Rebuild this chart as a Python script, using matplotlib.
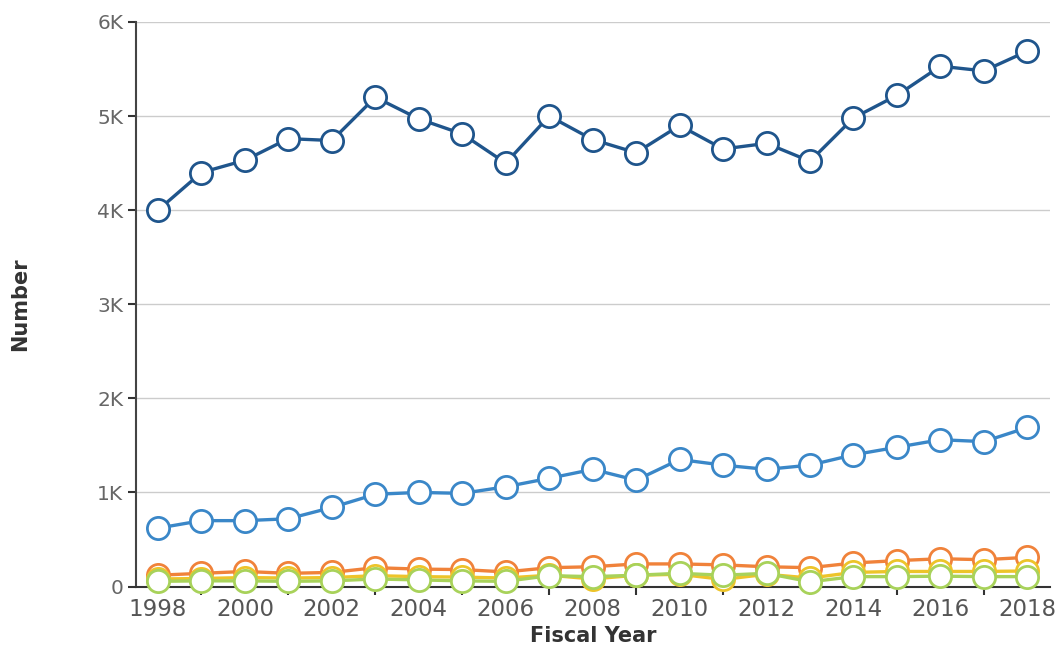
import matplotlib
matplotlib.use("Agg")
import matplotlib.pyplot as plt
import numpy as np

years = list(range(1998, 2019))

serie_a = [4000, 4400, 4530, 4760, 4740, 5200, 4970, 4810, 4500, 5000, 4750,
           4610, 4900, 4650, 4710, 4520, 4980, 5220, 5530, 5480, 5690]
serie_b = [620, 700, 700, 720, 840, 980, 1000, 990, 1060, 1150, 1245,
           1130, 1350, 1290, 1245, 1290, 1400, 1480, 1560, 1540, 1690]
serie_c = [120, 140, 160, 140, 150, 200, 185, 180, 155, 200, 210,
           240, 240, 230, 210, 200, 250, 275, 295, 285, 310]
serie_d = [80, 85, 95, 90, 95, 115, 105, 100, 90, 120, 80,
           120, 130, 75, 130, 90, 150, 160, 160, 160, 165]
serie_e = [55, 60, 60, 55, 60, 80, 70, 60, 55, 115, 105,
           120, 140, 120, 140, 50, 105, 105, 110, 105, 105]

yticks = [0, 1000, 2000, 3000, 4000, 5000, 6000]
ylabels = ["0", "1K", "2K", "3K", "4K", "5K", "6K"]

cores = ["#1f558c", "#3a87c8", "#f0823a", "#edc42a", "#a8d25a"]
series = [serie_a, serie_b, serie_c, serie_d, serie_e]

fig = plt.figure(figsize=(10.61, 6.54), dpi=100)
ax = fig.add_axes([0.128, 0.1032, 0.862, 0.8632])

for i in range(len(series)):
    ax.plot(years, series[i], color=cores[i], lw=2.4, marker="o",
            markersize=16, markerfacecolor="white", markeredgecolor=cores[i],
            markeredgewidth=2, clip_on=False, zorder=3 + i)

ax.set_xlim(1997.49, 2018.53)
ax.set_ylim(0, 6000)

ax.set_yticks(yticks)
ax.set_yticklabels(ylabels)
ax.grid(axis="y", color="#cccccc", lw=1)
ax.set_axisbelow(True)

# rótulos nos anos pares, marcas nos ímpares
ax.set_xticks(list(range(1998, 2019, 2)))
ax.set_xticklabels([str(a) for a in range(1998, 2019, 2)])
ax.set_xticks(list(range(1999, 2018, 2)), minor=True)
ax.tick_params(axis="x", which="major", length=0, pad=8, labelsize=16.5,
               labelcolor="#555555")
ax.tick_params(axis="x", which="minor", length=6, width=1.5, color="#333333")
ax.tick_params(axis="y", length=6, width=1.5, color="#333333", labelsize=14.5,
               labelcolor="#666666", pad=3)

for s in ["top", "right"]:
    ax.spines[s].set_visible(False)
ax.spines["left"].set_color("#444444")
ax.spines["left"].set_linewidth(1.5)
ax.spines["bottom"].set_color("#333333")
ax.spines["bottom"].set_linewidth(1.5)

ax.set_xlabel("Fiscal Year", fontsize=15, fontweight="bold", color="#333333",
              labelpad=4)
ax.set_ylabel("Number", fontsize=15, fontweight="bold", color="#333333",
              labelpad=48)

fig.savefig("out.png", dpi=100)
